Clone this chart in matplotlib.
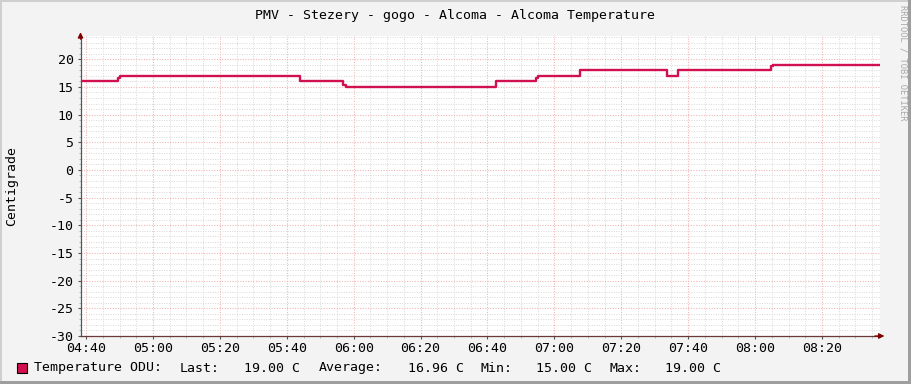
#!/usr/bin/env python3

from datetime import datetime

import matplotlib
matplotlib.use('Agg')
import matplotlib.pyplot as plt
import matplotlib.dates as mdates
from matplotlib.patches import Rectangle

# step changes of the temperature (time of change, new value)
change_times = ['04:38:20', '04:49:36', '04:50:10', '05:44:02', '05:56:41', '05:57:40',
                '06:42:38', '06:54:35', '06:55:10', '07:07:42', '07:33:38', '07:36:50',
                '08:04:44', '08:05:20', '08:37:20']
temps = [16.0, 16.7, 17.0, 16.0, 15.3, 15.0,
         16.0, 16.7, 17.0, 18.0, 17.0, 18.0,
         18.7, 19.0, 19.0]

legend_name = 'Temperature ODU:'
legend_stats = [('Last:', '19.00 C'), ('Average:', '16.96 C'),
                ('Min:', '15.00 C'), ('Max:', '19.00 C')]

title = 'PMV - Stezery - gogo - Alcoma - Alcoma Temperature'
ylabel = 'Centigrade'

line_color = '#D0104F'
back_color = '#F3F3F3'
axis_color = '#555555'
arrow_color = '#7F0000'
mono = 'DejaVu Sans Mono'

plt.rcParams['axes.unicode_minus'] = False

W, H = 911, 384


def px_x(x):
    return x / W


def px_y(y):
    return 1 - y / H


times = [datetime.strptime('2020-01-01 ' + t, '%Y-%m-%d %H:%M:%S') for t in change_times]

fig = plt.figure(figsize=(W / 100, H / 100), dpi=100, facecolor=back_color)
ax = fig.add_axes([px_x(80.5), px_y(336), px_x(880) - px_x(80.5), px_y(36) - px_y(336)])
ax.set_facecolor('white')

ax.step(times, temps, where='post', color=line_color, linewidth=1.7, zorder=5)

ax.set_xlim(times[0], times[-1])
ax.set_ylim(-30, 24.2)

ax.xaxis.set_major_locator(mdates.MinuteLocator(byminute=[0, 20, 40]))
ax.xaxis.set_minor_locator(mdates.MinuteLocator(byminute=range(0, 60, 5)))
ax.xaxis.set_major_formatter(mdates.DateFormatter('%H:%M'))
ax.set_yticks(range(-30, 21, 5))
ax.set_yticks(range(-30, 25, 1), minor=True)

ax.grid(which='minor', color='#d8d8d8', linestyle=(0, (1, 1.5)), linewidth=0.7)
ax.grid(which='major', color='#f4b0b0', linestyle=(0, (1, 1.5)), linewidth=0.75)
ax.set_axisbelow(True)

for s in ('top', 'right'):
    ax.spines[s].set_visible(False)
ax.spines['left'].set_color(axis_color)
ax.spines['bottom'].set_color('#6a3a3a')
for s in ('left', 'bottom'):
    ax.spines[s].set_linewidth(0.9)

ax.tick_params(which='major', length=2, width=0.8, color=axis_color,
               labelsize=9.5, labelfontfamily=mono, pad=3)
ax.tick_params(which='minor', length=1.2, width=0.6, color='#aaaaaa')
ax.tick_params(axis='x', pad=2.5)

# arrows at the end of the axes
ax.annotate('', xy=(1.009, 0), xytext=(0.99, 0), xycoords='axes fraction',
            arrowprops=dict(arrowstyle='-|>', color=arrow_color, lw=0.9,
                            mutation_scale=8))
ax.annotate('', xy=(0, 1.022), xytext=(0, 0.98), xycoords='axes fraction',
            arrowprops=dict(arrowstyle='-|>', color=arrow_color, lw=0.9,
                            mutation_scale=8))

fig.text(px_x(455), px_y(15), title, family=mono, fontsize=9.5,
         ha='center', va='center')
fig.text(px_x(12), px_y(186), ylabel, family=mono, fontsize=9.5,
         rotation=90, ha='center', va='center')
fig.text(px_x(903), px_y(5), 'RRDTOOL / TOBI OETIKER', family=mono, fontsize=6.3,
         color='#a8a8a8', rotation=270, ha='center', va='top')

# legend
fig.add_artist(Rectangle((px_x(17), px_y(373)), 10 / W, 10 / H,
                         transform=fig.transFigure, facecolor=line_color,
                         edgecolor='black', linewidth=0.8))
fig.text(px_x(33.5), px_y(368), legend_name, family=mono, fontsize=9.5,
         ha='left', va='center')
stat_x = [(180, 244), (319, 408.5), (480.5, 536), (610, 665)]
for (lbl, val), (x1, x2) in zip(legend_stats, stat_x):
    fig.text(px_x(x1), px_y(368), lbl, family=mono, fontsize=9.5, ha='left', va='center')
    fig.text(px_x(x2), px_y(368), val, family=mono, fontsize=9.5, ha='left', va='center')

# frame shading
fig.add_artist(Rectangle((0, px_y(2)), 1, 2 / H, transform=fig.transFigure,
                         facecolor='#CFCFCF', edgecolor='none'))
fig.add_artist(Rectangle((0, 0), 2 / W, 1, transform=fig.transFigure,
                         facecolor='#CFCFCF', edgecolor='none'))
fig.add_artist(Rectangle((px_x(908), 0), 3 / W, 1, transform=fig.transFigure,
                         facecolor='#9E9E9E', edgecolor='none'))
fig.add_artist(Rectangle((0, 0), 1, 3 / H, transform=fig.transFigure,
                         facecolor='#9E9E9E', edgecolor='none'))

fig.savefig('out.png', dpi=100, facecolor=back_color)
